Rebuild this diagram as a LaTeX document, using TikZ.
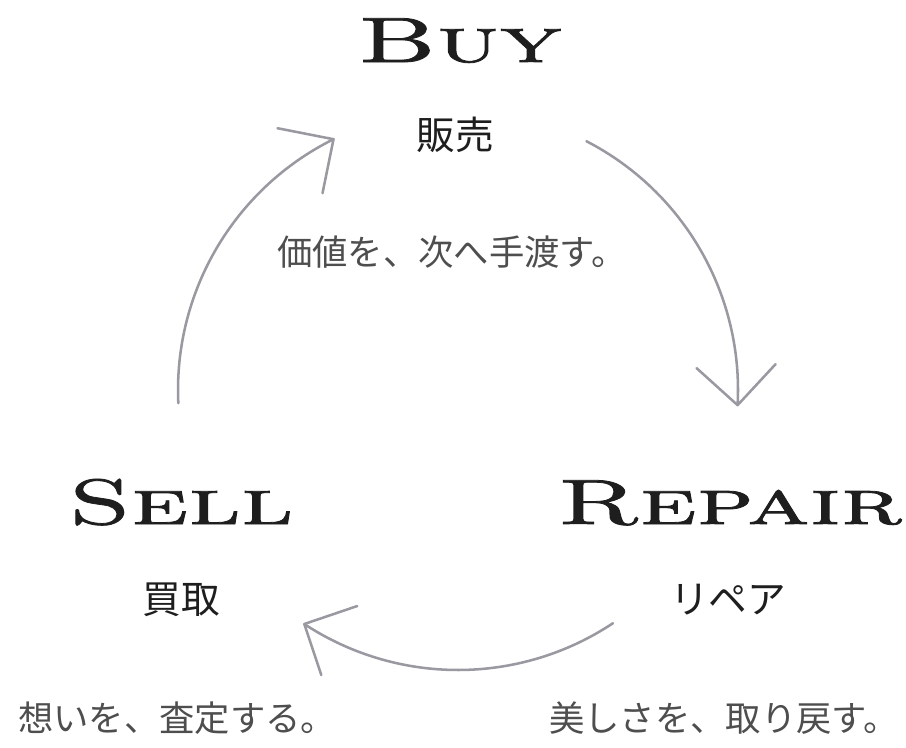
\documentclass[tikz,border=0pt]{standalone}
\usepackage{fontspec}
\usepackage{graphicx}
\newfontfamily\jp{Noto Sans CJK JP}
\newfontfamily\titlefont{lmromancaps10-regular}[Extension=.otf, FakeBold=1.2]
\usetikzlibrary{calc}
\definecolor{arcgray}{HTML}{9A98A1}
\definecolor{ink}{HTML}{1E1E1E}
\definecolor{subgray}{HTML}{4E4E4E}
\tikzset{
  title/.style={font=\titlefont\fontsize{48}{48}\selectfont, text=ink, inner sep=0pt, anchor=base},
  jlabel/.style={font=\jp\fontsize{29}{29}\selectfont, text=ink, inner sep=0pt},
  jsub/.style={font=\jp\fontsize{26.5}{26.5}\selectfont, text=subgray, inner sep=0pt, anchor=west},
  cyc/.style={draw=arcgray, line width=1.9pt, line cap=round, line join=round},
}
\begin{document}
\begin{tikzpicture}[x=0.75pt,y=-0.75pt]
\path[use as bounding box] (0,0) rectangle (906,747);
\coordinate (c) at (458,390);

% titles
\node[title] (buy) at (460,62) {\scalebox{1.6}[1]{Buy}};
\node[title] (sell) at (181,524) {\scalebox{1.6}[1]{Sell}};
\node[title] (repair) at (730,524) {\scalebox{1.6}[1]{Repair}};

% labels
\node[jlabel] (hanbai) at (455,135) {販売};
\node[jlabel] (kaitori) at (181,600) {買取};
\node[jlabel] (repairj) at (728,600) {リペア};

% sub texts
\node[jsub] (subbuy) at (277,252) {価値を、次へ手渡す。};
\node[jsub] (subsell) at (18,718) {想いを、査定する。};
\node[jsub] (subrepair) at (549,718) {美しさを、取り戻す。};

% cycle arcs
\coordinate (s1) at ($(c)+(62.7:210pt)$);
\coordinate (t1) at ($(c)+(-3.1:210pt)$);
\coordinate (s2) at ($(c)+(-56.4:210pt)$);
\coordinate (t2) at ($(c)+(-123.3:210pt)$);
\coordinate (s3) at ($(c)+(182.7:210pt)$);
\coordinate (t3) at ($(c)+(116.4:210pt)$);

\draw[cyc] (s1) arc[start angle=62.7, end angle=-3.1, radius=210pt];
\draw[cyc] (t1) ++(-41,-37) -- (t1) -- ++(38,-41);
\draw[cyc] (s2) arc[start angle=-56.4, end angle=-123.3, radius=210pt];
\draw[cyc] (t2) ++(53,-18) -- (t2) -- ++(17,51);
\draw[cyc] (s3) arc[start angle=182.7, end angle=116.4, radius=210pt];
\draw[cyc] (t3) ++(-56,-11) -- (t3) -- ++(-11,54);
\end{tikzpicture}
\end{document}
